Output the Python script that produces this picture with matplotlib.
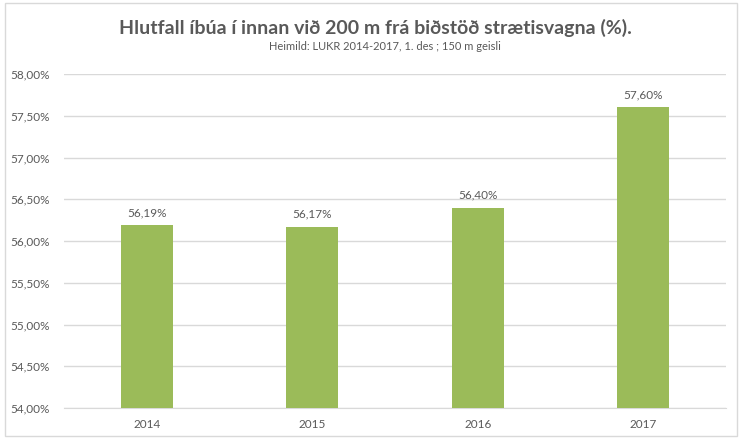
import matplotlib
matplotlib.use("Agg")
import matplotlib.pyplot as plt
from matplotlib.ticker import FuncFormatter
from matplotlib.patches import Rectangle

years = ["2014", "2015", "2016", "2017"]
values = [56.19, 56.17, 56.40, 57.60]
y_ticks = [54.0, 54.5, 55.0, 55.5, 56.0, 56.5, 57.0, 57.5, 58.0]
title = "Hlutfall íbúa í innan við 200 m frá biðstöð strætisvagna (%)."
subtitle = "Heimild: LUKR 2014-2017, 1. des ; 150 m geisli"

plt.rcParams['font.family'] = ['Lato', 'DejaVu Sans']
gray = "#595959"

fig = plt.figure(figsize=(7.44, 4.38), dpi=100)
fig.patches.append(Rectangle((5/744, 2/438), 732/744, 433/438, transform=fig.transFigure,
                             fill=False, edgecolor="#D9D9D9", linewidth=1))
ax = fig.add_axes([64/744, 1 - 408/438, 662/744, (408 - 74)/438])
x = range(len(years))
bars = ax.bar(x, values, width=0.315, color="#9BBB59", zorder=3)
ax.set_ylim(54, 58)
ax.set_xlim(-0.5, len(years) - 0.5)
ax.set_yticks(y_ticks)
ax.yaxis.set_major_formatter(FuncFormatter(lambda v, p: f"{v:.2f}".replace(".", ",") + "%"))
ax.set_xticks(list(x))
ax.set_xticklabels(years)
ax.grid(axis="y", color="#D9D9D9", linewidth=1, zorder=0)
for s in ["top", "right", "left"]:
    ax.spines[s].set_visible(False)
ax.spines["bottom"].set_color("#D9D9D9")
ax.tick_params(axis="both", length=0, colors=gray, labelsize=8.5)
ax.tick_params(axis="y", pad=10)
ax.tick_params(axis="x", pad=8)
for b, v in zip(bars, values):
    ax.annotate(f"{v:.2f}".replace(".", ",") + "%", (b.get_x() + b.get_width() / 2, v),
                xytext=(0, 5), textcoords="offset points", ha="center", va="bottom",
                fontsize=8.5, color=gray)
fig.text(375/744, 1 - 28/438, title, ha="center", va="center", fontsize=14, fontweight="bold", color=gray)
fig.text(385/744, 1 - 47/438, subtitle, ha="center", va="center", fontsize=8, color=gray)
fig.savefig("out.png", dpi=100, facecolor="white")
